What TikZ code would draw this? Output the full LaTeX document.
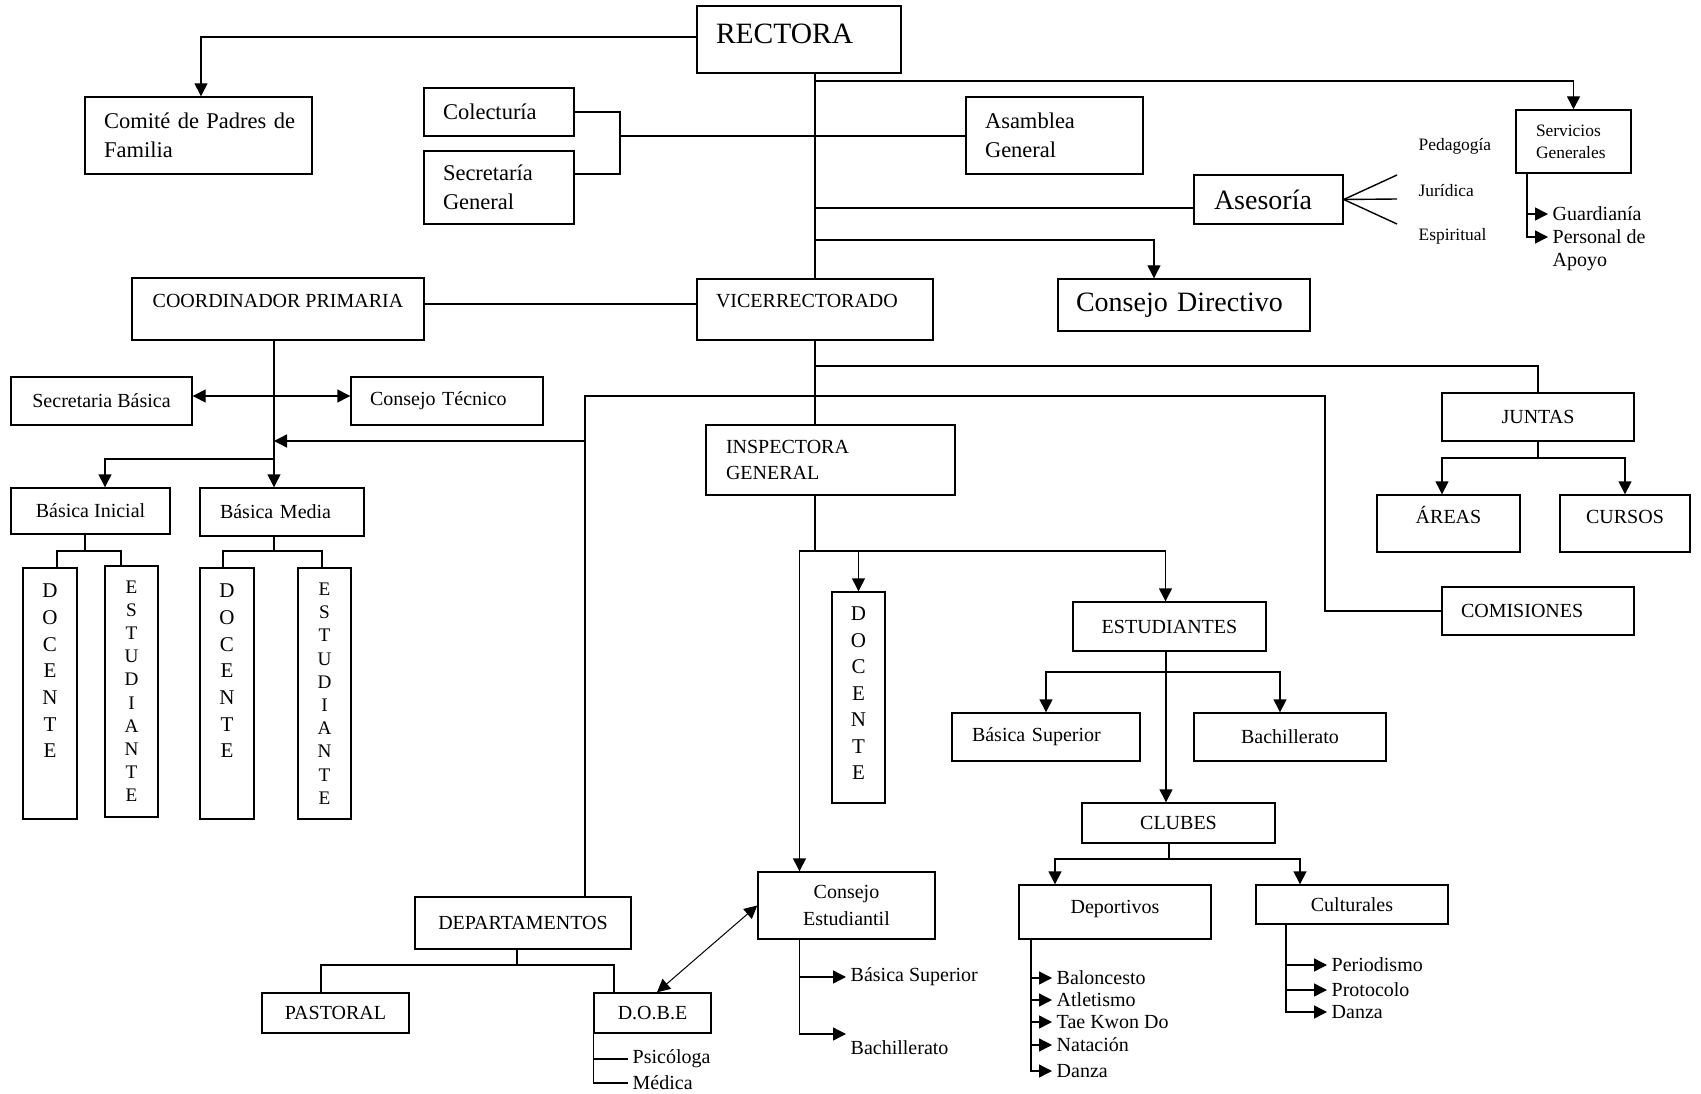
\documentclass[tikz,border=0pt]{standalone}
\usepackage{fontspec}
\setmainfont{Liberation Serif}
\usepackage{tikz}
\usetikzlibrary{arrows.meta}
\newcommand{\frect}{\fontsize{29.5}{34}\selectfont}
\newcommand{\fbig}{\fontsize{28}{34}\selectfont}
\newcommand{\fmid}{\fontsize{22.5}{29}\selectfont}
\newcommand{\fnorm}{\fontsize{20}{26}\selectfont}
\newcommand{\fsml}{\fontsize{17.4}{22}\selectfont}
\tikzset{%
  box/.style = {rectangle,draw,inner sep=0pt,font=\fnorm},
  lbox/.style = {box,align=left},
  vbox/.style = {rectangle,draw,inner sep=0pt},
  item/.style = {anchor=west,inner xsep=4pt,inner ysep=1pt,font=\fnorm},
  lbl/.style = {anchor=west,inner xsep=3pt,font=\fsml},
  lift/.style = {text height=14pt,text depth=#1},
  arr/.style = {-{Triangle[length=13pt,width=13pt]}},
  dblarr/.style = {{Triangle[length=13pt,width=13pt]}-{Triangle[length=13pt,width=13pt]}}
}
\begin{document}
\begin{tikzpicture}[x=1pt,y=-1pt,line width=1.4pt]
    \useasboundingbox (0,0) rectangle (1701,1094);
    \node[lbox, font=\frect, text width=166pt, inner xsep=19pt, minimum height=67pt,
        lift=12.4pt, text height=20pt] (rect) at (799,39.5) {RECTORA};
    \node[lbox, font=\fmid, text width=189pt, inner xsep=19pt, minimum height=77pt]
        (comite) at (198.5,135.5) {\mbox{Comité de Padres de}\\Familia};
    \node[lbox, font=\fmid, text width=112pt, inner xsep=19pt, minimum height=48pt]
        (colec) at (499,112) {Colecturía};
    \node[lbox, font=\fmid, text width=112pt, inner xsep=19pt, minimum height=73pt]
        (secr) at (499,187.5) {Secretaría\\General};
    \node[lbox, font=\fmid, text width=139pt, inner xsep=19pt, minimum height=77pt]
        (asam) at (1054.5,135.5) {Asamblea\\General};
    \node[lbox, font=\fbig, text width=109pt, inner xsep=20pt, minimum height=49pt]
        (ases) at (1268.5,199.5) {Asesoría};
    \node[lbox, font=\fsml, text width=75pt, inner xsep=20pt, minimum height=63pt]
        (serv) at (1573.5,141.5) {Servicios\\Generales};
    \node[lbox, font=\fbig, text width=216pt, inner xsep=18pt, minimum height=52pt]
        (cdir) at (1184,305) {Consejo Directivo};
    \node[lbl] (pedag) at (1415,146) {Pedagogía};
    \node[lbl] (jurid) at (1415,191) {Jurídica};
    \node[lbl] (espir) at (1415,236) {Espiritual};
    \coordinate (fP) at (1397,175);
    \coordinate (fJ) at (1397,199);
    \coordinate (fE) at (1397,224);
    \node[item] (guard) at (1548,214) {Guardianía};
    \node[item, align=left, font=\fontsize{20}{23}\selectfont] (pers) at (1548,250) {Personal de\\Apoyo};

    \node[box, lift=16pt, minimum width=292pt, minimum height=62pt] (coord) at (278,309) {COORDINADOR PRIMARIA};
    \node[lbox, lift=19pt, text width=198pt, inner xsep=19pt, minimum height=61pt]
        (vice) at (815,309.5) {VICERRECTORADO};
    \node[box, minimum width=181pt, minimum height=48pt] (secb) at (101.5,401) {Secretaria Básica};
    \node[lbox, text width=154pt, inner xsep=19pt, minimum height=48pt] (ctec) at (447,401) {Consejo Técnico};
    \node[box, minimum width=159pt, minimum height=46pt] (binic) at (90.5,511) {Básica Inicial};
    \node[lbox, text width=124pt, inner xsep=20pt, minimum height=48pt] (bmed) at (282,512) {Básica Media};
    \node[vbox] (doc1) at (50,693.5) {\parbox[c][251pt][t]{54pt}{\vspace*{16pt}\centering
        \fontsize{21}{26.7}\selectfont D\\O\\C\\E\\N\\T\\E}};
    \node[vbox] (est1) at (131.5,691.5) {\parbox[c][251pt][t]{53pt}{\vspace*{14.6pt}\centering
        \fontsize{19.2}{23.2}\selectfont E\\S\\T\\U\\D\\I\\A\\N\\T\\E}};
    \node[vbox] (doc2) at (227,693.5) {\parbox[c][251pt][t]{54pt}{\vspace*{16pt}\centering
        \fontsize{21}{26.7}\selectfont D\\O\\C\\E\\N\\T\\E}};
    \node[vbox] (est2) at (324.5,693.5) {\parbox[c][251pt][t]{53pt}{\vspace*{15pt}\centering
        \fontsize{19.2}{23.2}\selectfont E\\S\\T\\U\\D\\I\\A\\N\\T\\E}};

    \node[lbox, text width=209pt, inner xsep=20pt, minimum height=70pt]
        (insp) at (830.5,460) {INSPECTORA\\GENERAL};
    \node[box, minimum width=192pt, minimum height=48pt] (juntas) at (1538,417) {JUNTAS};
    \node[box, lift=15pt, minimum width=143pt, minimum height=57pt] (areas) at (1448.5,523.5) {ÁREAS};
    \node[box, lift=15pt, minimum width=130pt, minimum height=57pt] (cursos) at (1625,523.5) {CURSOS};
    \node[lbox, text width=154pt, inner xsep=19pt, minimum height=48pt] (comis) at (1538,611) {COMISIONES};
    \node[vbox] (doc3) at (858.5,697.5) {\parbox[c][211pt][t]{53pt}{\vspace*{15pt}\centering
        \fontsize{21}{26.5}\selectfont D\\O\\C\\E\\N\\T\\E}};
    \node[box, minimum width=193pt, minimum height=49pt] (estud) at (1169.5,626.5) {ESTUDIANTES};
    \node[lbox, text width=148pt, inner xsep=20pt, minimum height=48pt] (bsup) at (1046,737) {Básica Superior};
    \node[box, minimum width=192pt, minimum height=48pt] (bach) at (1290,737) {Bachillerato};
    \node[box, minimum width=193pt, minimum height=40pt] (clubes) at (1178.5,823) {CLUBES};
    \node[box, lift=12pt, minimum width=192pt, minimum height=54pt] (deport) at (1115,912) {Deportivos};
    \node[box, minimum width=192pt, minimum height=39pt] (cult) at (1352,904.5) {Culturales};
    \node[item] (balon) at (1052,978) {Baloncesto};
    \node[item] (atlet) at (1052,1000) {Atletismo};
    \node[item] (taekw) at (1052,1022) {Tae Kwon Do};
    \node[item] (natac) at (1052,1045) {Natación};
    \node[item] (danza) at (1052,1071) {Danza};
    \node[item] (perio) at (1327,965) {Periodismo};
    \node[item] (proto) at (1327,990) {Protocolo};
    \node[item] (danzb) at (1327,1012) {Danza};

    \node[box, minimum width=216pt, minimum height=52pt] (dept) at (523,923) {DEPARTAMENTOS};
    \node[box, minimum width=147pt, minimum height=40pt] (past) at (335.5,1013) {PASTORAL};
    \node[box, minimum width=117pt, minimum height=40pt] (dobe) at (652.5,1013) {D.O.B.E};
    \node[box, align=center, font=\fontsize{20}{27}\selectfont, minimum width=177pt, minimum height=67pt]
        (cest) at (846.5,905.5) {Consejo\\Estudiantil};
    \node[item] (psic) at (628,1059) {Psicóloga};
    \node[item] (medi) at (628,1083) {Médica};
    \node[item] (bsupb) at (846,977) {Básica Superior};
    \node[item] (bachb) at (846,1048) {Bachillerato};

    \draw[arr] ([yshift=2.5pt]rect.west) -| ([xshift=2.5pt]comite.north);
    \draw (rect.south -| vice.north) -- (vice.north);
    \coordinate (jS) at (815,81);
    \coordinate (jA) at (815,208);
    \coordinate (jD) at (815,240);
    \draw[arr] (jS) -| (serv.north);
    \draw (jA) -- (jA -| ases.west);
    \draw[arr] (jD) -| ([xshift=-30pt]cdir.north);
    \coordinate (cs) at (620,136);
    \draw (colec.east) -| (cs) |- ([yshift=13.5pt]secr.east);
    \draw (cs) -- (cs -| asam.west);
    \draw (ases.east) -- (fP);
    \draw (ases.east) -- (fJ);
    \draw (ases.east) -- (fE);
    \draw[arr] ([xshift=-46.5pt]serv.south) |- (guard.west);
    \draw[arr] ([xshift=-46.5pt]serv.south) |- ([yshift=13pt]pers.west);

    \draw ([yshift=5pt]coord.east) -- ([yshift=5pt]coord.east -| vice.west);
    \coordinate (cp) at (274,340);
    \draw[arr] (cp) -- (cp |- bmed.north);
    \draw[dblarr] ([yshift=5pt]secb.east) -- ([yshift=5pt]ctec.west);
    \coordinate (jL) at (585,396);
    \coordinate (jR) at (1325,396);
    \coordinate (jP) at (585,441);
    \draw (dept.north -| jL) -- (jL) -- (jR) |- (comis.west);
    \draw[arr] (jP) -- (jP -| cp);
    \coordinate (jB) at (274,459);
    \draw[arr] (jB) -| ([xshift=14.5pt]binic.north);
    \coordinate (jb1) at (85,551);
    \draw (jb1 |- binic.south) -- (jb1) -| ([xshift=7pt]doc1.north);
    \draw (jb1) -| ([xshift=-10.5pt]est1.north);
    \coordinate (jb2) at (274,551);
    \draw (jb2 |- bmed.south) -- (jb2) -| ([xshift=-4pt]doc2.north);
    \draw (jb2) -| ([xshift=-2.5pt]est2.north);

    \draw (vice.south) -- (vice.south |- insp.north);
    \coordinate (jJ) at (815,366);
    \draw (jJ) -| (juntas.north);
    \coordinate (jT) at (1538,458);
    \draw (juntas.south) -- (jT);
    \draw[arr] (jT) -| ([xshift=-6.5pt]areas.north);
    \draw[arr] (jT) -| (cursos.north);
    \coordinate (jI) at (815,551);
    \draw (jI |- insp.south) -- (jI);
    \draw[arr] (jI) -| ([xshift=-47pt]cest.north);
    \draw[arr] (jI) -| (doc3.north);
    \draw[arr] (jI) -| ([xshift=-4pt]estud.north);
    \coordinate (jE) at (1166,672);
    \draw[arr] (jE |- estud.south) -- (jE |- clubes.north);
    \draw[arr] (jE) -| (bsup.north);
    \draw[arr] (jE) -| ([xshift=-10pt]bach.north);
    \coordinate (jC) at (1169,859);
    \draw (jC |- clubes.south) -- (jC);
    \draw[arr] (jC) -| ([xshift=-60pt]deport.north);
    \draw[arr] (jC) -| ([xshift=-52pt]cult.north);
    \draw[arr] ([xshift=-84pt]deport.south) |- (balon.west);
    \draw[arr] ([xshift=-84pt]deport.south) |- (atlet.west);
    \draw[arr] ([xshift=-84pt]deport.south) |- (taekw.west);
    \draw[arr] ([xshift=-84pt]deport.south) |- (natac.west);
    \draw[arr] ([xshift=-84pt]deport.south) |- (danza.west);
    \draw[arr] ([xshift=-66pt]cult.south) |- (perio.west);
    \draw[arr] ([xshift=-66pt]cult.south) |- (proto.west);
    \draw[arr] ([xshift=-66pt]cult.south) |- (danzb.west);

    \coordinate (jK) at (517,965);
    \draw (jK |- dept.south) -- (jK);
    \draw (jK) -| ([xshift=-14.5pt]past.north);
    \draw (jK) -| ([xshift=-38.5pt]dobe.north);
    \draw[dblarr, line width=1pt] ([xshift=4.5pt]dobe.north) -- (cest.west);
    \draw (dobe.south west) |- (psic.west);
    \draw (dobe.south west) |- (medi.west);
    \draw[arr] ([xshift=-47pt]cest.south) |- (bsupb.west);
    \draw[arr] ([xshift=-47pt]cest.south) |- ([yshift=14pt]bachb.west);
\end{tikzpicture}
\end{document}
